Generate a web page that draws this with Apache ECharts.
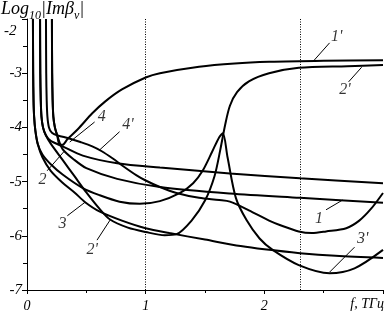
<!DOCTYPE html>
<html><head><meta charset="utf-8">
<script src="https://cdn.jsdelivr.net/npm/echarts@6/dist/echarts.min.js"></script>
<style>html,body{margin:0;padding:0;background:#fff}#c{width:386px;height:317px}</style>
</head><body><div id="c"></div>
<script>
// axis ticks
const xTicks = [0, 1, 2];
const yTicks = [-7, -6, -5, -4, -3, -2];
const dottedLines = [1, 2.3];

// shared asymptote branches [f (THz), log10|Im beta|]
const asymA = [[0.050,-2.0],[0.052,-3.0],[0.055,-3.5],[0.06,-3.8],[0.07,-4.05],[0.09,-4.3]];
const asymB = [[0.11,-2.0],[0.112,-3.0],[0.116,-3.5],[0.122,-3.8],[0.135,-4.0],[0.16,-4.15]];
const asymC = [[0.16,-2.0],[0.162,-3.0],[0.166,-3.5],[0.172,-3.8],[0.185,-4.0],[0.21,-4.1]];
const asymD = [[0.21,-2.0],[0.212,-3.0],[0.216,-3.5],[0.222,-3.8],[0.235,-4.0],[0.255,-4.15]];

const curve3 = [[0.13,-4.55],[0.2,-4.8],[0.3,-5.02],[0.4,-5.2],[0.49,-5.38],[0.61,-5.55],[0.8,-5.72],[1.0,-5.86],[1.2,-5.95],[1.5,-6.07],[1.8,-6.19],[2.0,-6.25],[2.3,-6.32],[2.6,-6.37],[3.0,-6.41]];
const curve3p = [[0.13,-4.5],[0.2,-4.68],[0.3,-4.87],[0.47,-5.12],[0.61,-5.25],[0.78,-5.37],[0.95,-5.41],[1.12,-5.36],[1.29,-5.21],[1.4,-5.03],[1.48,-4.8],[1.56,-4.45],[1.62,-4.18],[1.65,-4.11],[1.69,-4.55],[1.76,-5.3],[1.85,-5.71],[1.96,-6.05],[2.07,-6.26],[2.29,-6.54],[2.55,-6.69],[2.76,-6.6],[3.0,-6.26]];
const curve2p = [[0.2,-4.3],[0.3,-4.6],[0.4,-4.9],[0.5,-5.2],[0.61,-5.5],[0.7,-5.7],[0.85,-5.85],[1.0,-5.93],[1.16,-5.99],[1.26,-5.97],[1.39,-5.71],[1.5,-5.35],[1.58,-4.9],[1.63,-4.4],[1.67,-3.95],[1.71,-3.6],[1.77,-3.35],[1.87,-3.15],[2.04,-3.0],[2.29,-2.9],[2.7,-2.87],[3.0,-2.85]];
const curve2 = [[0.2,-4.25],[0.3,-4.35],[0.47,-4.52],[0.76,-4.66],[1.12,-4.74],[1.71,-4.85],[2.3,-4.94],[3.0,-5.03]];
const curve4p = [[0.26,-4.15],[0.35,-4.2],[0.45,-4.27],[0.55,-4.35],[0.63,-4.44],[0.72,-4.57],[0.82,-4.73],[0.92,-4.88],[1.0,-4.98],[1.12,-5.1],[1.26,-5.21],[1.45,-5.3],[1.62,-5.34],[1.71,-5.37],[1.87,-5.53],[2.04,-5.72],[2.13,-5.8],[2.29,-5.92],[2.4,-5.95],[2.52,-5.92],[2.69,-5.86],[2.8,-5.72],[2.9,-5.5],[3.0,-5.21]];
const curve1p = [[0.27,-4.3],[0.3,-4.32],[0.34,-4.22],[0.43,-4.03],[0.55,-3.74],[0.66,-3.52],[0.8,-3.3],[1.0,-3.08],[1.12,-3.0],[1.45,-2.88],[1.75,-2.82],[2.04,-2.79],[2.5,-2.77],[3.0,-2.76]];
const curve1 = [[0.3,-4.4],[0.4,-4.6],[0.5,-4.75],[0.76,-4.95],[1.12,-5.1],[1.71,-5.22],[2.3,-5.3],[3.0,-5.39]];

// curve labels: text, text anchor, leader start, leader end
const labelTexts = ["1'", "2'", "4", "4'", "2", "3", "2'", "1", "3'"];
const labelPos = [[2.61,-2.33],[2.68,-3.31],[0.63,-3.81],[0.85,-3.96],[0.13,-4.97],[0.30,-5.78],[0.55,-6.26],[2.46,-5.69],[2.83,-6.06]];
const leaderFrom = [[2.55,-2.44],[2.82,-2.89],[0.57,-3.9],[0.78,-4.08],[0.17,-4.8],[0.34,-5.63],[0.59,-6.08],[2.52,-5.52],[2.76,-6.21]];
const leaderTo = [[2.42,-2.76],[2.71,-3.16],[0.36,-4.27],[0.61,-4.42],[0.31,-4.45],[0.49,-5.38],[0.70,-5.71],[2.66,-5.34],[2.55,-6.67]];

const FONT = 'Liberation Serif';
const chart = echarts.init(document.getElementById('c'));
const curves = [
  asymA.concat(curve3), asymA.concat(curve3p),
  asymB.concat(curve2p), asymB.concat(curve2),
  asymC.concat(curve4p),
  asymD.concat(curve1p), asymD.concat(curve1)
];
const series = curves.map(d => ({
  type: 'line', data: d, showSymbol: false, smooth: 0.3, clip: true,
  lineStyle: {color: '#000', width: 2}, silent: true
}));
series.push({
  type: 'line', data: [], silent: true,
  markLine: {symbol: 'none', silent: true, label: {show: false},
    lineStyle: {color: '#000', width: 1, type: [1, 1.5]},
    data: dottedLines.map(x => ({xAxis: x}))}
});
labelTexts.forEach((t, i) => {
  series.push({type: 'line', data: [leaderFrom[i], leaderTo[i]], showSymbol: false, silent: true,
    lineStyle: {color: '#000', width: 1}});
});
series.push({
  type: 'scatter', symbolSize: 0, silent: true,
  data: labelPos.map((p, i) => ({value: p, label: {show: true, formatter: labelTexts[i]}})),
  label: {position: 'inside', color: '#000', fontFamily: FONT, fontStyle: 'italic', fontSize: 16}
});

chart.setOption({
  animation: false,
  grid: {left: 27, top: 19, right: 2, bottom: 27, containLabel: false},
  xAxis: {type: 'value', min: 0, max: 3, interval: 1,
    axisLine: {lineStyle: {color: '#000', width: 1}},
    axisTick: {inside: false, length: 4, lineStyle: {color: '#000'}},
    minorTick: {show: true, splitNumber: 2, length: 3, lineStyle: {color: '#000'}},
    splitLine: {show: false},
    axisLabel: {color: '#000', fontFamily: FONT, fontStyle: 'italic', fontSize: 14, margin: 9,
      formatter: v => xTicks.includes(v) ? String(v) : ''}
  },
  yAxis: {type: 'value', min: -7, max: -2, interval: 1,
    axisLine: {show: true, lineStyle: {color: '#000', width: 1}},
    axisTick: {show: true, length: 5, lineStyle: {color: '#000'}},
    minorTick: {show: true, splitNumber: 2, length: 4, lineStyle: {color: '#000'}},
    splitLine: {show: false},
    axisLabel: {color: '#000', fontFamily: FONT, fontStyle: 'italic', fontSize: 15, margin: 5,
      formatter: v => (yTicks.includes(v) && v !== -2) ? String(v) : ''}
  },
  graphic: [
    {type: 'text', left: 1, top: 0, style: {
      text: '{a|Log}{s|10}{a||Imβ}{s|v}{a||}',
      rich: {
        a: {fontFamily: FONT, fontStyle: 'italic', fontSize: 18, fill: '#000', verticalAlign: 'bottom', lineHeight: 18},
        s: {fontFamily: FONT, fontStyle: 'italic', fontSize: 12, fill: '#000', verticalAlign: 'bottom', lineHeight: 14, padding: [0,0,-4,0]}
      }}},
    {type: 'text', left: 4, top: 24, style: {text: '-2', font: 'italic 15px "Liberation Serif"', fill: '#000'}},
    {type: 'text', right: 2, top: 297, style: {text: 'f, ТГц', font: 'italic 14px "Liberation Serif"', fill: '#000'}}
  ],
  series: series
});
</script></body></html>
